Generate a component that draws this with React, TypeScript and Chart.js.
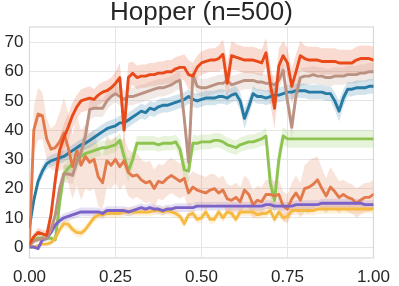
import React, { useEffect, useRef } from "react";
import { Chart, registerables } from "chart.js";

Chart.register(...registerables);

const TITLE = "Hopper (n=500)";
const X_TICKS = [0, 0.25, 0.5, 0.75, 1];
const Y_TICKS = [0, 10, 20, 30, 40, 50, 60, 70];

const xs = [
  0, 0.0125, 0.025, 0.0375, 0.05, 0.0625, 0.075, 0.0875, 0.1, 0.1125,
  0.125, 0.1375, 0.15, 0.1625, 0.175, 0.1875, 0.2, 0.2125, 0.225, 0.2375,
  0.25, 0.2625, 0.275, 0.2875, 0.3, 0.3125, 0.325, 0.3375, 0.35, 0.3625,
  0.375, 0.3875, 0.4, 0.4125, 0.425, 0.4375, 0.45, 0.4625, 0.475, 0.4875,
  0.5, 0.5125, 0.525, 0.5375, 0.55, 0.5625, 0.575, 0.5875, 0.6, 0.6125,
  0.625, 0.6375, 0.65, 0.6625, 0.675, 0.6875, 0.7, 0.7125, 0.725, 0.7375,
  0.75, 0.7625, 0.775, 0.7875, 0.8, 0.8125, 0.825, 0.8375, 0.85, 0.8625,
  0.875, 0.8875, 0.9, 0.9125, 0.925, 0.9375, 0.95, 0.9625, 0.975, 0.9875,
  1,
];

const redMean = [
  1, 3.5, 5, 4.5, 4, 11, 23, 33, 37.5, 41,
  45, 48, 50, 50.5, 51, 50.5, 52, 53, 53.5, 54.5,
  56, 58, 40, 58, 59.5, 58, 58.5, 58.5, 59, 59,
  59.5, 59.5, 60, 60, 61, 61.5, 61.5, 59, 58.5, 61.5,
  63, 63.5, 64, 64, 64.5, 66, 56, 65.5, 65, 64.5,
  64, 64, 64, 63.5, 63, 66.5, 56, 47.5, 62, 65.5,
  63, 55, 60, 65.5, 64.5, 64, 64, 64, 63.5, 63.5,
  63.5, 63.5, 63, 63, 63, 63, 64, 64.5, 64.5, 64.5,
  64,
];
const redErr = [
  1, 1.5, 1.5, 1.5, 1.5, 3, 4, 4.5, 4.5, 4.5,
  4.5, 4, 4, 4, 4, 3.5, 3.5, 3.5, 3.5, 3.5,
  4, 5, 7, 5, 4, 4, 4, 4, 4, 4,
  4, 4, 4, 4, 4, 4, 4.5, 5, 4.5, 4,
  4, 4, 4, 4, 4.5, 5, 7, 5, 4.5, 4.5,
  4.5, 4.5, 4.5, 4.5, 4.5, 5, 7, 7, 6, 5,
  5, 6, 6, 5, 4.5, 4.5, 4.5, 4.5, 4.5, 4.5,
  4.5, 4.5, 4.5, 4.5, 4.5, 4.5, 4.5, 4.5, 4.5, 4.5,
  4.5,
];

const brownMean = [
  0.5, 2, 2.5, 3, 3, 6, 11, 20, 25, 25,
  24.5, 29, 32.5, 38, 47, 47.5, 47.5, 47.5, 50, 51.5,
  52.5, 51.5, 50.5, 51.5, 51.5, 52, 52.5, 53, 53.5, 54,
  54.5, 54.5, 55, 55.5, 56.5, 57, 44, 29, 59, 55,
  54.5, 54.5, 55, 55.5, 56, 56, 57, 55.5, 56, 56.5,
  57, 57, 57, 56.5, 56.5, 56, 56, 55.5, 57, 60.5,
  50, 41, 52, 58, 58.5, 58.5, 59, 58.5, 58.5, 58,
  58, 58.5, 58.5, 58.5, 59, 59, 59, 59.5, 59.5, 60,
  60,
];
const brownErr = [
  0.5, 1, 1, 1, 1, 1.5, 2, 3, 3, 3,
  3, 3, 3, 3.5, 3.5, 3, 3, 3, 3, 3,
  3, 3, 3, 3, 3, 3, 3, 3, 3, 3,
  3, 3, 3, 3, 3, 3, 4, 4, 3.5, 3,
  3, 3, 3, 3, 3, 3, 3, 3, 3, 3,
  3, 3, 3, 3, 3, 3, 3, 3, 3, 3,
  4, 4, 3.5, 3, 3, 3, 3, 3, 3, 3,
  3, 3, 3, 3, 3, 3, 3, 3, 3, 3,
  3,
];

const blueMean = [
  7, 16, 22.5, 26, 28.5, 29.5, 30, 30.5, 31, 32,
  33, 34, 35, 35.5, 36.5, 37.5, 38.5, 39.5, 40.5, 41,
  41.5, 42.5, 42.5, 43.5, 44.5, 45.5, 46.5, 46, 47.5, 47,
  48, 48.5, 48.5, 49, 49.5, 50, 50.5, 51.5, 50.5, 50,
  50.5, 51, 51, 51, 51.5, 51.5, 51, 52, 52.5, 50,
  44, 48, 52.5, 51.5, 51.5, 51, 51.5, 52, 52, 52.5,
  53, 53, 53.5, 53.5, 53.5, 53, 53, 53, 53, 52.5,
  52.5, 50, 46.5, 51, 54, 54, 54.5, 54.5, 54.5, 55,
  55,
];
const blueErr = [
  1.5, 2, 2, 2, 2, 2, 2, 2, 2, 2,
  2, 2, 2, 2, 2.5, 2.5, 2.5, 2.5, 2.5, 2.5,
  2.5, 2.5, 2.5, 2.5, 2.5, 2.5, 2.5, 2.5, 2.5, 2.5,
  2.5, 2.5, 2.5, 2.5, 2.5, 2.5, 2.5, 2.5, 2.5, 2.5,
  2.5, 2.5, 2.5, 2.5, 2.5, 2.5, 2.5, 2.5, 2.5, 3,
  3.5, 3, 2.5, 2.5, 2.5, 2.5, 2.5, 2.5, 2.5, 2.5,
  2.5, 2.5, 2.5, 2.5, 2.5, 2.5, 2.5, 2.5, 2.5, 2.5,
  2.5, 3, 3.5, 3, 2.5, 2.5, 2.5, 2.5, 2.5, 2.5,
  2.5,
];

const greenMean = [
  0.5, 2.5, 3, 3, 3, 3, 2.5, 15, 25, 27,
  28.5, 30, 31, 32, 32.5, 33, 33.5, 34, 34, 34.5,
  35, 36.5, 31, 26, 30, 35.5, 35.5, 35.5, 35.5, 35.5,
  35, 35.5, 35.5, 35.5, 36, 33.5, 26.5, 26, 35.5, 35.5,
  36, 36, 36, 36.5, 36.5, 36, 35, 34.5, 34, 35,
  35.5, 36, 36, 36.5, 37, 38, 22, 16, 30, 38,
  37, 37, 37, 37, 37, 37, 37, 37, 37, 37,
  37, 37, 37, 37, 37, 37, 37, 37, 37, 37,
  37,
];
const greenErr = [
  0.5, 1, 1, 1, 1, 1, 1, 3, 3, 3,
  3, 2.5, 2.5, 2.5, 2.5, 2.5, 2.5, 2.5, 2.5, 2.5,
  2.5, 2.5, 4, 4, 3, 2.5, 2.5, 2.5, 2.5, 2.5,
  2.5, 2.5, 2.5, 2.5, 2.5, 3, 4, 4, 3, 2.5,
  2.5, 2.5, 2.5, 2.5, 2.5, 2.5, 2.5, 2.5, 2.5, 2.5,
  2.5, 2.5, 2.5, 2.5, 2.5, 3, 5, 5, 5, 3,
  3, 3, 3, 3, 3, 3, 3, 3, 3, 3,
  3, 3, 3, 3, 3, 3, 3, 3, 3, 3,
  3,
];

const orangeMean = [
  2, 40, 45.5, 45, 37, 33.5, 34, 36, 39, 34,
  27.5, 33, 28, 31, 29, 30, 24, 22, 29.5, 28,
  30, 27.5, 29.5, 25.5, 24.3, 24.7, 23, 22, 22.5, 20,
  22.5, 22, 23.5, 24.5, 23.5, 22.5, 23.5, 18.5, 20.5, 19.5,
  19, 18.5, 19.5, 20, 18.5, 19.5, 16.5, 16, 17, 15.5,
  19.5, 18, 14.5, 16, 15.5, 18, 18, 17.5, 18, 14,
  13, 16.5, 18.5, 16, 20, 20.5, 21.5, 23, 20, 17.5,
  20.5, 19, 17, 18, 17, 16.5, 15, 16, 17, 17,
  18,
];
const orangeErr = [
  1, 8, 9, 8, 7, 7, 8, 10, 12, 12,
  11, 12, 12, 11, 10, 10, 10, 9, 9, 8,
  8, 8, 8, 8, 8, 7.5, 7, 7, 7, 6.5,
  6, 6, 6, 6, 6, 6, 6, 5.5, 5.5, 5.5,
  5.5, 5.5, 5.5, 5, 5, 5, 5, 5, 5, 5,
  5, 5, 5, 5, 5, 5, 5, 5, 5, 5,
  5, 5.5, 6, 6, 8, 9, 9, 8, 7, 6,
  7, 6, 5.5, 5, 5, 5, 5, 5, 5, 5,
  5,
];

const purpleMean = [
  0, 0, -0.5, 2.5, 3, 5, 7.5, 9, 10, 10.5,
  11, 11.5, 12, 12, 12, 12, 12, 11.5, 12.5, 12.5,
  12.5, 12.5, 12.5, 12, 12.5, 13, 13.5, 13, 13.5, 13,
  13, 12.5, 13, 13, 13.5, 13.5, 13.5, 13.5, 13.5, 14,
  14, 14, 14, 14, 14, 14, 14, 14, 14, 14,
  14, 14, 14, 14, 14, 14.5, 14.5, 14, 14, 14,
  14, 14, 14.5, 14.5, 14.5, 14.5, 14.5, 14.5, 15, 15,
  15, 15, 15, 15, 15, 15, 15, 15, 14.5, 14.5,
  14.5,
];
const purpleErr = [
  0.5, 0.5, 0.5, 1, 1, 1, 1.5, 1.5, 1.5, 1.5,
  1.5, 1.5, 1.5, 1.5, 1.5, 1.5, 1.5, 1.5, 1.5, 1.5,
  1.5, 1.5, 1.5, 1.5, 1.5, 1.5, 1.5, 1.5, 1.5, 1.5,
  1.5, 1.5, 1.5, 1.5, 1.5, 1.5, 1.5, 1.5, 1.5, 1.5,
  1.5, 1.5, 1.5, 1.5, 1.5, 1.5, 1.5, 1.5, 1.5, 1.5,
  1.5, 1.5, 1.5, 1.5, 1.5, 1.5, 1.5, 1.5, 1.5, 1.5,
  1.5, 1.5, 1.5, 1.5, 1.5, 1.5, 1.5, 1.5, 1.5, 1.5,
  1.5, 1.5, 1.5, 1.5, 1.5, 1.5, 1.5, 1.5, 1.5, 1.5,
  1.5,
];

const yellowMean = [
  0, 0, 0.5, 1, 1, 1.5, 3, 6, 8, 7.8,
  6, 5, 4.8, 6, 8, 10, 11, 11, 11.5, 11.5,
  11.5, 11.5, 12, 12, 12, 12, 12, 12, 12, 12.5,
  12.5, 12, 12.5, 12, 11.5, 10.5, 8, 11, 11.5, 9.5,
  10, 12, 9.5, 9.5, 12, 10, 12, 11.5, 9.5, 12,
  12, 12, 12, 11, 11.5, 11.5, 12.5, 9.5, 12, 10,
  10.5, 12.5, 12.5, 12.5, 12.5, 12.5, 12.5, 13, 13, 13,
  13, 13, 13, 13, 13, 13, 13, 13, 13, 13,
  13,
];
const yellowErr = [
  0.5, 0.5, 0.5, 0.5, 0.5, 1, 1, 1.5, 1.5, 1.5,
  1.5, 1.5, 1.5, 1.5, 1.5, 1.5, 1.5, 1.5, 1.5, 1.5,
  1.5, 1.5, 1.5, 1.5, 1.5, 1.5, 1.5, 1.5, 1.5, 1.5,
  1.5, 1.5, 1.5, 1.5, 1.5, 1.5, 1.5, 1.5, 1.5, 1.5,
  1.5, 1.5, 1.5, 1.5, 1.5, 1.5, 1.5, 1.5, 1.5, 1.5,
  1.5, 1.5, 1.5, 1.5, 1.5, 1.5, 1.5, 1.5, 1.5, 1.5,
  1.5, 1.5, 1.5, 1.5, 1.5, 1.5, 1.5, 1.5, 1.5, 1.5,
  1.5, 1.5, 1.5, 1.5, 1.5, 1.5, 1.5, 1.5, 1.5, 1.5,
  1.5,
];

type Series = { mean: number[]; err: number[]; rgb: string; order: number };

const SERIES: Series[] = [
  { mean: blueMean, err: blueErr, rgb: "38,122,164", order: 6 },
  { mean: greenMean, err: greenErr, rgb: "141,196,80", order: 5 },
  { mean: orangeMean, err: orangeErr, rgb: "226,122,76", order: 4 },
  { mean: yellowMean, err: yellowErr, rgb: "246,186,66", order: 3 },
  { mean: purpleMean, err: purpleErr, rgb: "123,98,200", order: 2 },
  { mean: brownMean, err: brownErr, rgb: "187,146,130", order: 1 },
  { mean: redMean, err: redErr, rgb: "232,74,26", order: 0 },
];

const FONT = "'Liberation Sans', Arial, Helvetica, sans-serif";

const framePlugin = {
  id: "frame",
  beforeDatasetsDraw(chart: any) {
    const { ctx, chartArea } = chart;
    ctx.save();
    ctx.strokeStyle = "#d9d9d9";
    ctx.lineWidth = 1.2;
    ctx.strokeRect(chartArea.left, chartArea.top, chartArea.right - chartArea.left, chartArea.bottom - chartArea.top);
    ctx.restore();
  },
};

export default function App() {
  const ref = useRef<HTMLCanvasElement | null>(null);

  useEffect(() => {
    if (!ref.current) return;
    const datasets: any[] = [];
    SERIES.forEach((s) => {
      const upper = xs.map((x, i) => ({ x, y: s.mean[i] + s.err[i] }));
      const lower = xs.map((x, i) => ({ x, y: s.mean[i] - s.err[i] }));
      datasets.push({
        data: upper,
        borderWidth: 0,
        pointRadius: 0,
        fill: false,
        order: 100,
      });
      datasets.push({
        data: lower,
        borderWidth: 0,
        pointRadius: 0,
        fill: "-1",
        backgroundColor: `rgba(${s.rgb},0.2)`,
        order: 100,
      });
    });
    SERIES.forEach((s) => {
      datasets.push({
        data: xs.map((x, i) => ({ x, y: s.mean[i] })),
        borderColor: `rgb(${s.rgb})`,
        borderWidth: 2.9,
        pointRadius: 0,
        fill: false,
        tension: 0,
        borderJoinStyle: "round",
        borderCapStyle: "round",
        order: s.order,
      });
    });

    const tickFont = { family: FONT, size: 17 };
    const chart = new Chart(ref.current, {
      type: "line",
      data: { datasets },
      plugins: [framePlugin],
      options: {
        animation: false,
        responsive: false,
        maintainAspectRatio: false,
        layout: { padding: { left: 0, right: 21, top: 0, bottom: 0 } },
        plugins: {
          legend: { display: false },
          tooltip: { enabled: false },
          title: {
            display: true,
            text: TITLE,
            fullSize: false,
            color: "#262626",
            font: { family: FONT, size: 26, weight: "normal", lineHeight: 1 },
            padding: { top: 0, bottom: 1 },
          },
        },
        scales: {
          x: {
            type: "linear",
            min: 0,
            max: 1,
            afterBuildTicks: (s: any) => {
              s.ticks = X_TICKS.map((v) => ({ value: v }));
            },
            afterFit: (s: any) => {
              s.height = 28;
            },
            grid: { color: "#e5e5e5", drawTicks: false, lineWidth: 1 },
            border: { display: false },
            ticks: {
              padding: 9,
              color: "#262626",
              font: tickFont,
              maxRotation: 0,
              callback: (v: any) => Number(v).toFixed(2),
            },
          },
          y: {
            type: "linear",
            min: -3.75,
            max: 75.3,
            afterBuildTicks: (s: any) => {
              s.ticks = Y_TICKS.map((v) => ({ value: v }));
            },
            afterFit: (s: any) => {
              s.width = 29.5;
            },
            grid: { color: "#e5e5e5", drawTicks: false, lineWidth: 1 },
            border: { display: false },
            ticks: {
              padding: 6,
              color: "#262626",
              font: tickFont,
              callback: (v: any) => String(v),
            },
          },
        },
      } as any,
    });
    return () => chart.destroy();
  }, []);

  return (
    <div style={{ position: "absolute", left: 0, top: 0, width: 399, height: 286, background: "#fff" }}>
      <canvas ref={ref} width={399} height={286} style={{ display: "block", width: 399, height: 286 }} />
    </div>
  );
}
